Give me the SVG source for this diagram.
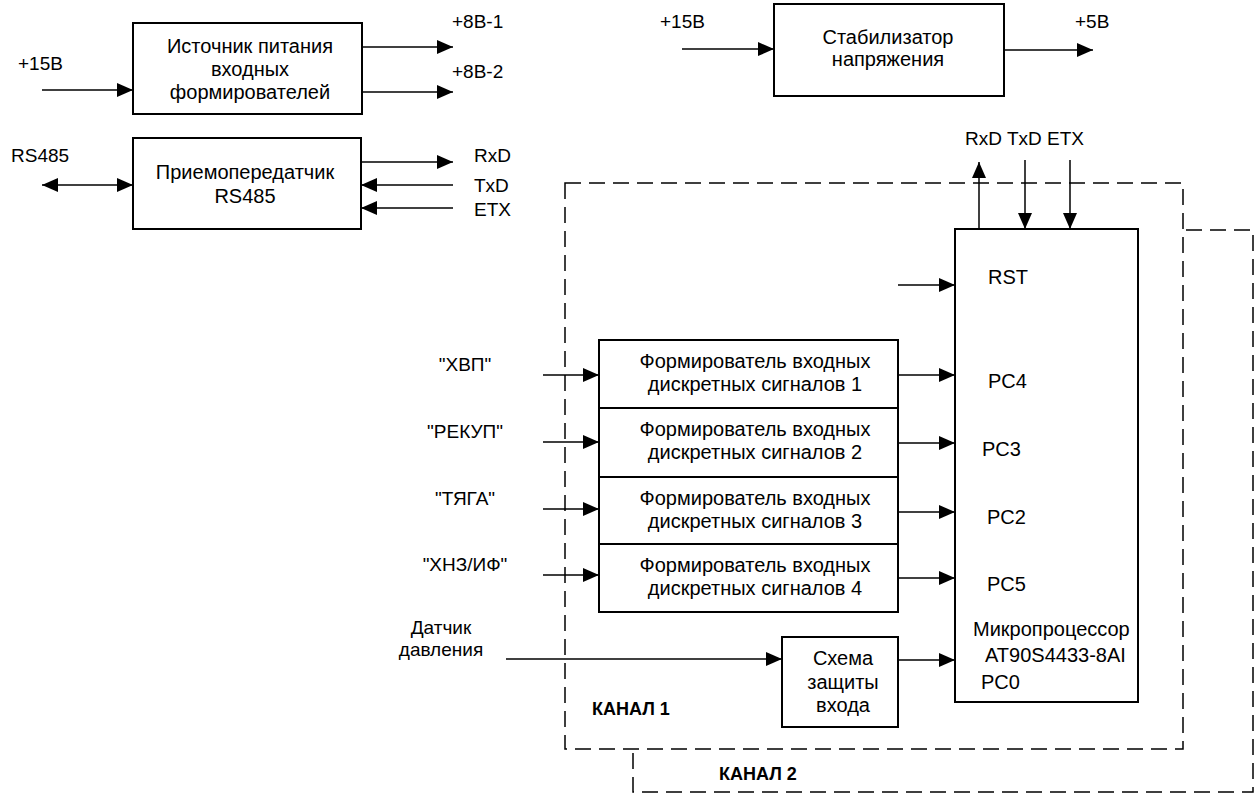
<svg xmlns="http://www.w3.org/2000/svg" width="1258" height="794" viewBox="0 0 1258 794">
<style>
.box{fill:#fff;stroke:#000;stroke-width:2}
.ln{fill:none;stroke:#000;stroke-width:1.5}
.arr{fill:none;stroke:#000;stroke-width:1.5;marker-end:url(#ah)}
.dash{fill:none;stroke:#000;stroke-width:1.5;stroke-dasharray:16 8}
text{font-family:"Liberation Sans",Arial,sans-serif;font-size:20px;fill:#000}
.m{text-anchor:middle}
.lbl{font-size:19px}
.b{font-weight:bold;font-size:18px}
</style>
<defs>
<marker id="ah" markerUnits="userSpaceOnUse" markerWidth="16" markerHeight="14" refX="16" refY="7" orient="auto-start-reverse"><path d="M0,0 L16,7 L0,14 z" fill="#000"/></marker>
</defs>
<rect width="1258" height="794" fill="#fff"/>
<g id="channels">
<path class="dash" d="M1186,230 H1253 V792 H633 V750"/>
<rect class="dash" x="565" y="183" width="618" height="566"/>
<text class="b" x="592" y="715">КАНАЛ 1</text>
<text class="b" x="719" y="780">КАНАЛ 2</text>
</g>
<g id="power">
<rect class="box" x="133" y="23" width="229" height="91"/>
<text class="m" x="250" y="53">Источник питания</text>
<text class="m" x="250" y="76">входных</text>
<text class="m" x="250" y="99">формирователей</text>
</g>
<g id="rs485">
<rect class="box" x="133" y="138" width="228" height="91"/>
<text class="m" x="245" y="179">Приемопередатчик</text>
<text class="m" x="245" y="203">RS485</text>
</g>
<g id="stab">
<rect class="box" x="774" y="4" width="230" height="92"/>
<text class="m" x="888" y="44">Стабилизатор</text>
<text class="m" x="888" y="66">напряжения</text>
</g>
<g id="f1">
<rect class="box" x="599" y="340" width="299" height="68"/>
<text class="m" x="755" y="368">Формирователь входных</text>
<text class="m" x="755" y="391">дискретных сигналов 1</text>
</g>
<g id="f2">
<rect class="box" x="599" y="408" width="299" height="69"/>
<text class="m" x="755" y="436">Формирователь входных</text>
<text class="m" x="755" y="459">дискретных сигналов 2</text>
</g>
<g id="f3">
<rect class="box" x="599" y="477" width="299" height="67"/>
<text class="m" x="755" y="505">Формирователь входных</text>
<text class="m" x="755" y="528">дискретных сигналов 3</text>
</g>
<g id="f4">
<rect class="box" x="599" y="544" width="299" height="68"/>
<text class="m" x="755" y="572">Формирователь входных</text>
<text class="m" x="755" y="595">дискретных сигналов 4</text>
</g>
<g id="protect">
<rect class="box" x="782" y="637" width="116" height="90"/>
<text class="m" x="843" y="665">Схема</text>
<text class="m" x="843" y="689">защиты</text>
<text class="m" x="843" y="712">входа</text>
</g>
<g id="mcu">
<rect class="box" x="955" y="229" width="183" height="473"/>
<text x="988" y="284">RST</text>
<text x="988" y="388">PC4</text>
<text x="982" y="456">PC3</text>
<text x="987" y="524">PC2</text>
<text x="987" y="591">PC5</text>
<text x="973" y="636">Микропроцессор</text>
<text x="985" y="662">AT90S4433-8AI</text>
<text x="981" y="689">PC0</text>
</g>
<g id="labels">
<text class="lbl" x="18" y="70">+15В</text>
<text class="lbl" x="452" y="28">+8В-1</text>
<text class="lbl" x="452" y="78">+8В-2</text>
<text class="lbl" x="11" y="162">RS485</text>
<text class="lbl" x="474" y="162">RxD</text>
<text class="lbl" x="474" y="192">TxD</text>
<text class="lbl" x="474" y="216">ETX</text>
<text class="lbl" x="660" y="28">+15В</text>
<text class="lbl" x="1075" y="28">+5В</text>
<text class="lbl" x="965" y="145">RxD TxD ETX</text>
<text class="lbl m" x="465" y="371">"ХВП"</text>
<text class="lbl m" x="465" y="438">"РЕКУП"</text>
<text class="lbl m" x="465" y="505">"ТЯГА"</text>
<text class="lbl m" x="465" y="571">"ХНЗ/ИФ"</text>
<text class="lbl m" x="441" y="634">Датчик</text>
<text class="lbl m" x="441" y="656">давления</text>
</g>
<g id="connectors">
<path class="arr" d="M42,90 H133"/>
<path class="arr" d="M362,47 H453"/>
<path class="arr" d="M362,92 H453"/>
<path class="arr" d="M42,185 H133" style="marker-start:url(#ah)"/>
<path class="arr" d="M361,162 H453"/>
<path class="arr" d="M453,185 H361"/>
<path class="arr" d="M453,208 H361"/>
<path class="arr" d="M682,49 H774"/>
<path class="arr" d="M1004,50 H1093"/>
<path class="arr" d="M979,229 V162"/>
<path class="arr" d="M1025,160 V229"/>
<path class="arr" d="M1070,160 V229"/>
<path class="arr" d="M898,285 H955"/>
<path class="arr" d="M543,375 H599"/>
<path class="arr" d="M543,442 H599"/>
<path class="arr" d="M543,509 H599"/>
<path class="arr" d="M543,575 H599"/>
<path class="arr" d="M898,375 H955"/>
<path class="arr" d="M898,443 H955"/>
<path class="arr" d="M898,512 H955"/>
<path class="arr" d="M898,578 H955"/>
<path class="arr" d="M506,659 H782"/>
<path class="arr" d="M898,660 H955"/>
</g>
</svg>
